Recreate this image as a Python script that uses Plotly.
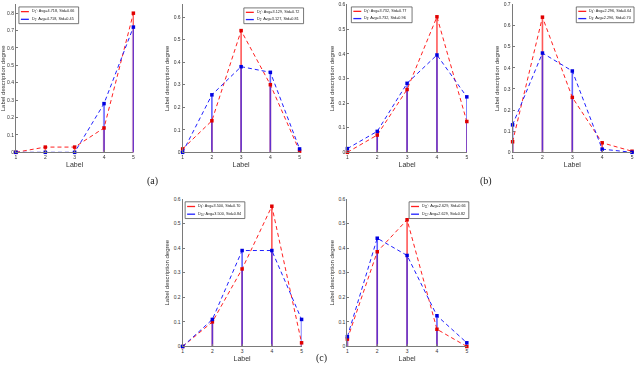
import plotly.graph_objects as go

# label axis shared by all six panels
labels = [1, 2, 3, 4, 5]

# (a) left / right
a1_red = [0.0, 0.03, 0.03, 0.14, 0.80]
a1_blue = [0.0, 0.0, 0.0, 0.28, 0.72]
a2_red = [0.015, 0.14, 0.54, 0.30, 0.005]
a2_blue = [0.0, 0.255, 0.38, 0.355, 0.015]

# (b) left / right
b1_red = [0.0, 0.07, 0.255, 0.55, 0.125]
b1_blue = [0.015, 0.085, 0.28, 0.395, 0.225]
b2_red = [0.05, 0.64, 0.26, 0.045, 0.005]
b2_blue = [0.13, 0.47, 0.385, 0.015, 0.0]

# (c) left / right
c1_red = [0.0, 0.10, 0.315, 0.57, 0.015]
c1_blue = [0.0, 0.11, 0.39, 0.39, 0.11]
c2_red = [0.03, 0.385, 0.515, 0.07, 0.0]
c2_blue = [0.04, 0.44, 0.37, 0.125, 0.015]

legend_red = [
    "D<sub>1</sub>′: Avg=4.718, Std=0.66",
    "D<sub>2</sub>′: Avg=3.129, Std=0.72",
    "D<sub>3</sub>′: Avg=3.732, Std=0.77",
    "D<sub>4</sub>′: Avg=2.296, Std=0.64",
    "D<sub>9</sub>′: Avg=3.500, Std=0.70",
    "D<sub>11</sub>′: Avg=2.629, Std=0.66",
]
legend_blue = [
    "D<sub>1</sub>: Avg=4.718, Std=0.45",
    "D<sub>2</sub>: Avg=3.127, Std=0.81",
    "D<sub>3</sub>: Avg=3.732, Std=0.96",
    "D<sub>4</sub>: Avg=2.296, Std=0.70",
    "D<sub>10</sub>: Avg=3.500, Std=0.84",
    "D<sub>12</sub>: Avg=2.629, Std=0.82",
]
captions = ["(a)", "(b)", "(c)"]

reds = [a1_red, a2_red, b1_red, b2_red, c1_red, c2_red]
blues = [a1_blue, a2_blue, b1_blue, b2_blue, c1_blue, c2_blue]

W, H = 640, 380
# panel boxes in pixels: x0, x1, ytop, ybottom, ymax, legend box (x0, y0, x1, y1)
boxes = [
    (15, 133, 1.5, 151.7, 0.85, (18, 4, 78, 21)),
    (182.5, 300, 1.5, 151.7, 0.656, (244, 5, 304, 21)),
    (348, 468, 1.5, 151.7, 0.6, (352, 4, 413, 20)),
    (514, 634, 1.5, 151.7, 0.7, (578, 4, 636, 20)),
    (182.5, 302, 199, 349, 0.6, (185, 202, 245, 219)),
    (348, 468, 199, 349, 0.6, (410, 202, 470, 219)),
]

RED = "#ff2020"
BLUE = "#2020ff"
AXIS = "#7a7a7a"
FONT = "Liberation Sans"


def stems(xs, ys):
    sx, sy = [], []
    for x, y in zip(xs, ys):
        sx += [x, x, None]
        sy += [0, y, None]
    return sx, sy


def px(x):
    return x / W


def py(y):
    return 1 - y / H


fig = go.Figure()
shapes = []
annotations = []

for i, (red, blue) in enumerate(zip(reds, blues)):
    n = "" if i == 0 else str(i + 1)
    xref, yref = "x" + n, "y" + n

    sx, sy = stems(labels, red)
    fig.add_trace(go.Scatter(x=sx, y=sy, mode="lines", xaxis=xref, yaxis=yref,
                             line=dict(color=RED, width=1.6), opacity=0.75,
                             showlegend=False, hoverinfo="skip"))
    sx, sy = stems(labels, blue)
    fig.add_trace(go.Scatter(x=sx, y=sy, mode="lines", xaxis=xref, yaxis=yref,
                             line=dict(color=BLUE, width=1.6), opacity=0.7,
                             showlegend=False, hoverinfo="skip"))
    fig.add_trace(go.Scatter(x=labels, y=red, mode="lines+markers", xaxis=xref, yaxis=yref,
                             line=dict(color=RED, width=1, dash="4px,3px"),
                             marker=dict(color="#e00000", size=3.5, symbol="square"),
                             cliponaxis=False, showlegend=False))
    fig.add_trace(go.Scatter(x=labels, y=blue, mode="lines+markers", xaxis=xref, yaxis=yref,
                             line=dict(color=BLUE, width=1, dash="4px,3px"),
                             marker=dict(color="#0000e0", size=3.5, symbol="square"),
                             cliponaxis=False, showlegend=False))

    x0, x1, yt, yb, ymax, lg = boxes[i]
    fig.update_layout(**{
        "xaxis" + n: dict(
            domain=[px(x0), px(x1)], anchor=yref, range=[1, 5],
            tickvals=labels, ticks="inside", ticklen=2, tickcolor=AXIS,
            showline=True, linecolor=AXIS, linewidth=1, showgrid=False, zeroline=False,
            tickfont=dict(size=5, color="#333", family=FONT),
            title=dict(text="Label", font=dict(size=7, color="#333", family=FONT), standoff=2),
        ),
        "yaxis" + n: dict(
            domain=[py(yb), py(yt)], anchor=xref, range=[0, ymax], dtick=0.1,
            ticks="inside", ticklen=2, tickcolor=AXIS,
            showline=True, linecolor=AXIS, linewidth=1, showgrid=False, zeroline=False,
            tickfont=dict(size=5, color="#333", family=FONT),
            title=dict(text="Label description degree",
                       font=dict(size=6, color="#333", family=FONT), standoff=3),
        ),
    })

    # hand-drawn legend box, matching the small MATLAB legends
    lx0, ly0, lx1, ly1 = lg
    shapes.append(dict(type="rect", xref="paper", yref="paper",
                       x0=px(lx0), x1=px(lx1), y0=py(ly1), y1=py(ly0),
                       line=dict(color="#555", width=0.8), fillcolor="white"))
    rows = [(legend_red[i], RED), (legend_blue[i], BLUE)]
    for k, (txt, col) in enumerate(rows):
        yy = ly0 + (ly1 - ly0) * (0.28 + 0.46 * k)
        shapes.append(dict(type="line", xref="paper", yref="paper",
                           x0=px(lx0 + 2), x1=px(lx0 + 10), y0=py(yy), y1=py(yy),
                           line=dict(color=col, width=1.3)))
        annotations.append(dict(text=txt, xref="paper", yref="paper",
                                x=px(lx0 + 11), y=py(yy), xanchor="left", yanchor="middle",
                                showarrow=False, font=dict(size=3.8, color="#222", family=FONT)))

for txt, (cx, cy) in zip(captions, [(152, 181), (487, 181), (322, 361)]):
    annotations.append(dict(text=txt, xref="paper", yref="paper", x=px(cx), y=py(cy),
                            xanchor="center", yanchor="middle", showarrow=False,
                            font=dict(size=10, color="#222", family="Liberation Serif")))

fig.update_layout(
    width=W, height=H,
    margin=dict(l=0, r=0, t=0, b=0),
    paper_bgcolor="white", plot_bgcolor="white",
    showlegend=False,
    shapes=shapes,
    annotations=annotations,
)

# drop the browser's default 8px body margin so the figure fills the window
fig.write_html("out.html", config={"displayModeBar": False},
               post_script="document.body.style.margin='0';")
